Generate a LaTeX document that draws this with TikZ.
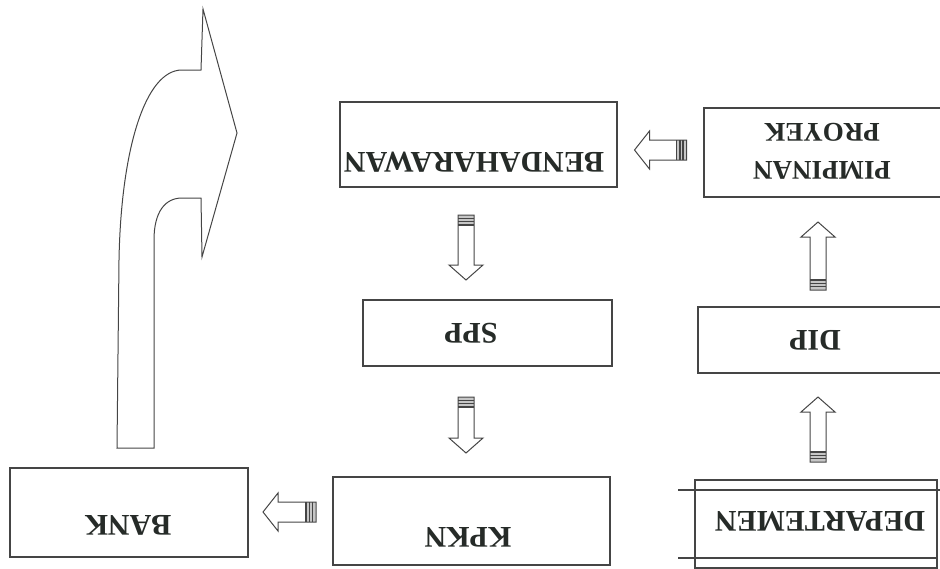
\documentclass[tikz,border=0pt]{standalone}
\usepackage{fontspec}
\setmainfont{Liberation Serif}
\usetikzlibrary{calc}
\definecolor{linec}{HTML}{454545}
\definecolor{txtc}{HTML}{262B28}
\begin{document}
\begin{tikzpicture}[x=1pt,y=-1pt,
  box/.style={draw=linec, line width=1.1pt, rectangle, inner sep=0pt},
  lab/.style={font=\fontsize{30}{34}\selectfont\bfseries, text=txtc, rotate=180, inner sep=0pt},
  arrowline/.style={draw=linec, line width=1pt, line join=miter},
  pics/blk/.style n args={2}{code={
    \fill[gray!45] (-#1/2,-#2) rectangle (-#1/2+10,#2);
    \draw[arrowline] (-#1/2,-#2) -- (#1/2-15,-#2) -- (#1/2-15,-#2-9) -- (#1/2,0)
        -- (#1/2-15,#2+9) -- (#1/2-15,#2) -- (-#1/2,#2) -- cycle;
    \foreach \s in {3.5,6.5,10} \draw[arrowline, line width=1.2pt] (-#1/2+\s,-#2) -- (-#1/2+\s,#2);
  }}]
\useasboundingbox (0,0) rectangle (940,568);
\clip (0,0) rectangle (940,568);

% boxes
\node[box, minimum width=277pt, minimum height=85pt] (bend) at (478.5,144.5) {};
\node[box, minimum width=241pt, minimum height=89pt] (pimp) at (824.5,152.5) {};
\node[box, minimum width=249pt, minimum height=66pt] (spp) at (487.5,333) {};
\node[box, minimum width=247pt, minimum height=66pt] (dip) at (821.5,340) {};
\node[box, minimum width=277pt, minimum height=88pt] (kpkn) at (471.5,521) {};
\node[box, minimum width=238pt, minimum height=89pt] (bank) at (129,512.5) {};
\node[box, minimum width=242pt, minimum height=88pt] (dep) at (816,524) {};
\coordinate (d1) at (678,490); \coordinate (d2) at (940,490);
\coordinate (d3) at (678,558); \coordinate (d4) at (937,558);
\draw[linec, line width=1.1pt] (d1) -- (d2) (d3) -- (d4);

% labels
\node[lab] (bendt) at (474,162) {BENDAHARAWAN};
\node[lab, font=\fontsize{27}{38}\selectfont\bfseries, align=center] (pimpt) at (822,151) {PIMPINAN\\PROYEK};
\node[lab] (sppt) at (471,333) {SPP};
\node[lab] (dipt) at (815,340) {DIP};
\node[lab] (kpknt) at (468,537) {KPKN};
\node[lab] (bankt) at (128,525) {BANK};
\node[lab] (dept) at (820,521) {DEPARTEMEN};

% block arrows
\pic[rotate=180] at ($(pimp.west)!.5!(bend.east)+(0,1.5)$) {blk={52}{10}};
\pic[rotate=-90] at ($(bend.south)!.5!(spp.north)+(-17,4)$) {blk={65}{8}};
\pic[rotate=-90] at ($(spp.south)!.5!(kpkn.north)+(-13.5,3.5)$) {blk={56}{8}};
\pic[rotate=180] at ($(kpkn.west)!.5!(bank.east)+(-1,-4.75)$) {blk={53}{10}};
\pic[rotate=90] at ($(dep.north)!.5!(dip.south)+(-0.75,3)$) {blk={65}{8}};
\pic[rotate=90] at ($(dip.north)!.5!(pimp.south)+(-5,4)$) {blk={68}{8}};

% big curved arrow
\draw[arrowline] (117,448) -- (119,260) .. controls (121,150) and (145,70) .. (182,70)
  -- (201,70) -- (203,9) -- (237,133) -- (202,257) -- (201,198) -- (182,198)
  .. controls (165,198) and (154,212) .. (154,240) -- (154,448) -- cycle;
\end{tikzpicture}
\end{document}
